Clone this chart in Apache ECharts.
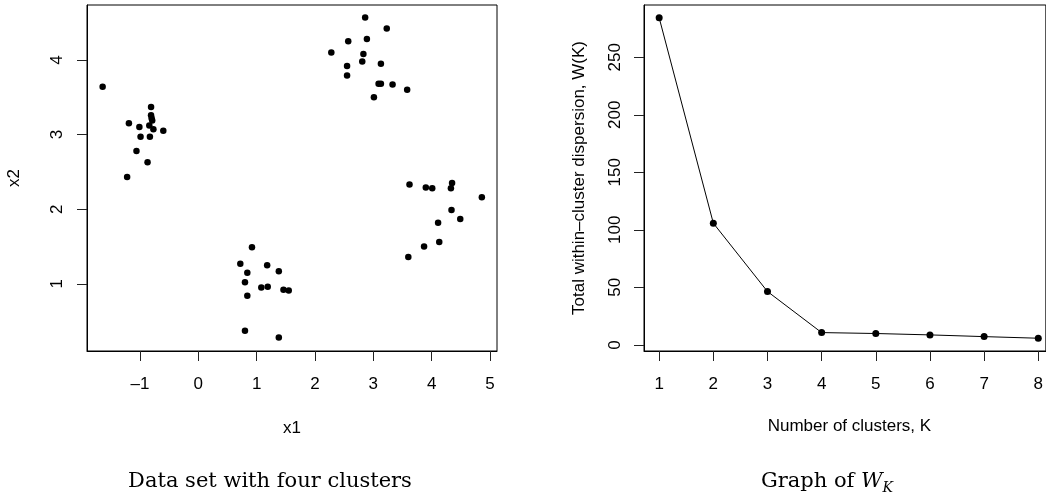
<!DOCTYPE html>
<html>
<head>
<meta charset="utf-8">
<script src="https://cdn.jsdelivr.net/npm/echarts@6/dist/echarts.min.js"></script>
<style>
  html, body { margin: 0; padding: 0; background: #fff; }
  #chart { width: 1046px; height: 498px; }
</style>
</head>
<body>
<div id="chart"></div>
<script>
// left panel: four clusters (x1, x2)
const clusterLeft = [
    [-1.64, 3.64], [-0.81, 3.37], [-0.81, 3.26], [-0.80, 3.22], [-0.79, 3.19],
    [-1.19, 3.15], [-1.01, 3.10], [-0.84, 3.12], [-0.77, 3.07], [-0.60, 3.05],
    [-0.99, 2.97], [-0.83, 2.97], [-1.06, 2.78], [-0.87, 2.63], [-1.22, 2.43]
];
const clusterTop = [
    [2.86, 4.57], [3.23, 4.42], [2.57, 4.25], [2.89, 4.28], [2.28, 4.10],
    [2.83, 4.08], [2.81, 3.98], [3.13, 3.95], [2.55, 3.92], [2.55, 3.79],
    [3.09, 3.68], [3.13, 3.68], [3.33, 3.67], [3.58, 3.60], [3.01, 3.50]
];
const clusterRight = [
    [3.62, 2.33], [3.90, 2.29], [4.01, 2.28], [4.35, 2.35], [4.33, 2.28],
    [4.86, 2.16], [4.34, 1.99], [4.49, 1.87], [4.11, 1.82], [4.13, 1.56],
    [3.87, 1.50], [3.60, 1.36]
];
const clusterBottom = [
    [0.92, 1.49], [0.72, 1.27], [1.18, 1.25], [0.84, 1.15], [1.38, 1.17],
    [0.80, 1.02], [1.08, 0.95], [1.19, 0.96], [1.46, 0.92], [1.55, 0.91],
    [0.84, 0.84], [0.80, 0.37], [1.38, 0.28]
];
const x1Ticks = [-1, 0, 1, 2, 3, 4, 5];
const x2Ticks = [1, 2, 3, 4];

// right panel: W(K)
const kValues = [1, 2, 3, 4, 5, 6, 7, 8];
const wValues = [284.3, 105.8, 46.4, 10.7, 9.9, 8.7, 7.2, 5.8];
const wTicks = [0, 50, 100, 150, 200, 250];

const dom = document.getElementById('chart');
const myChart = echarts.init(dom, null, { renderer: 'canvas' });

const sansFont = 'Liberation Sans, Arial, sans-serif';
const serifFont = 'DejaVu Serif, serif';

function valueAxis(gridIndex, min, max, ticks, name, nameGap, isY, margin, namePad) {
    return {
        type: 'value',
        gridIndex: gridIndex,
        min: min,
        max: max,
        name: name,
        nameLocation: 'middle',
        nameGap: nameGap,
        nameTextStyle: { fontFamily: sansFont, fontSize: 17, color: '#000', padding: namePad || 0 },
        splitLine: { show: false },
        axisLine: { show: true, onZero: false, lineStyle: { color: '#000', width: 1 } },
        axisTick: {
            show: true,
            length: 10,
            customValues: ticks,
            lineStyle: { color: '#222', width: 1 }
        },
        axisLabel: {
            customValues: ticks,
            fontFamily: sansFont,
            fontSize: 17,
            color: '#000',
            rotate: isY ? 90 : 0,
            margin: margin,
            formatter: function (v) { return v < 0 ? '\u2013' + Math.abs(v) : String(v); }
        }
    };
}

const dotStyle = { color: '#000', opacity: 1 };
const clusters = [clusterLeft, clusterTop, clusterRight, clusterBottom];

const series = clusters.map(c => ({
    type: 'scatter',
    xAxisIndex: 0,
    yAxisIndex: 0,
    data: c,
    symbolSize: 6.5,
    itemStyle: dotStyle,
    silent: true
}));

series.push({
    type: 'line',
    xAxisIndex: 1,
    yAxisIndex: 1,
    data: kValues.map((k, i) => [k, wValues[i]]),
    symbol: 'circle',
    symbolSize: 7,
    itemStyle: dotStyle,
    lineStyle: { color: '#000', width: 1 },
    silent: true
});

// right box runs past the page edge, so its x range is cut at 1047px
const option = {
    backgroundColor: '#fff',
    animation: false,
    grid: [
        { left: 87, top: 5, width: 410, height: 346, show: true, borderColor: '#000', borderWidth: 1 },
        { left: 644, top: 5, width: 403, height: 346, show: true, borderColor: '#000', borderWidth: 1 }
    ],
    xAxis: [
        valueAxis(0, -1.908, 5.12, x1Ticks, 'x1', 69, false, 25),
        valueAxis(1, 0.72, 8.14, kValues, 'Number of clusters, K', 67, false, 25, [0, 0, 0, 9])
    ],
    yAxis: [
        valueAxis(0, 0.10, 4.736, x2Ticks, 'x2', 64, true, 21),
        valueAxis(1, -5.3, 295.4, wTicks, 'Total within\u2013cluster dispersion, W(K)', 56, true, 20)
    ],
    graphic: [
        {
            type: 'text',
            x: 270,
            y: 482,
            style: {
                text: 'Data set with four clusters',
                font: '21px ' + serifFont,
                fill: '#000',
                textAlign: 'center',
                textVerticalAlign: 'middle'
            }
        },
        {
            type: 'text',
            x: 827,
            y: 482,
            style: {
                text: 'Graph of {w|W}{k|K}',
                font: '21px ' + serifFont,
                fill: '#000',
                textAlign: 'center',
                textVerticalAlign: 'middle',
                rich: {
                    w: { font: 'italic 21px ' + serifFont, fill: '#000' },
                    k: { font: 'italic 14px ' + serifFont, fill: '#000', padding: [12, 0, 0, 0] }
                }
            }
        }
    ],
    series: series
};

myChart.setOption(option);
</script>
</body>
</html>
